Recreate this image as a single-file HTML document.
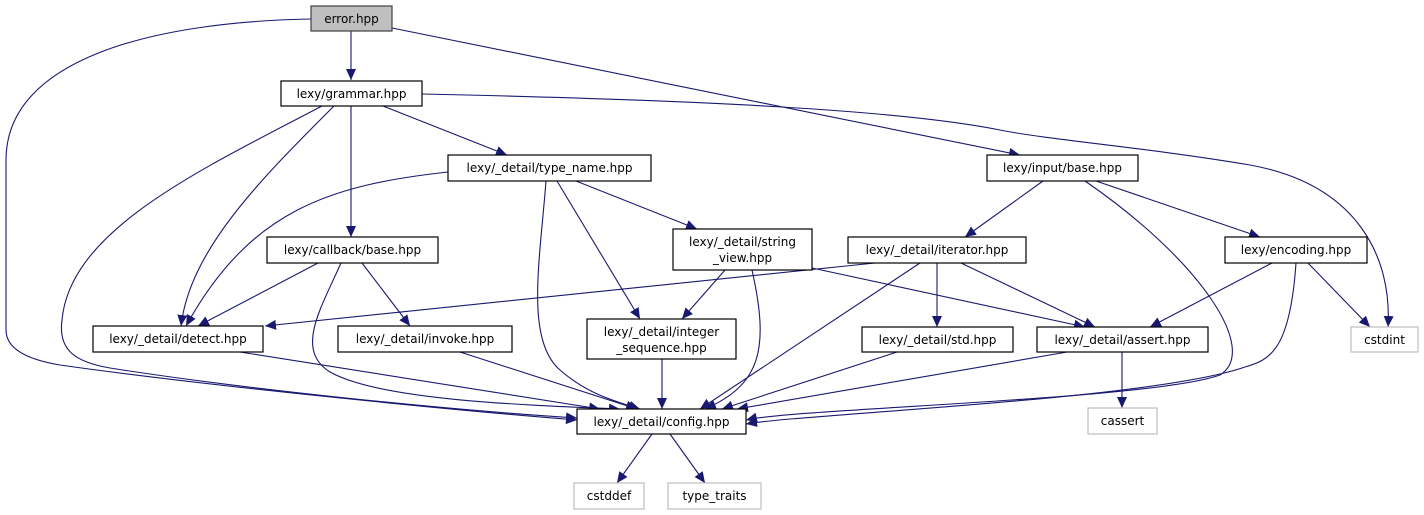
<!DOCTYPE html>
<html><head><meta charset="utf-8"><style>
html,body{margin:0;padding:0;background:#fff;}
svg{display:block;}
text{font-family:"DejaVu Sans","Liberation Sans",sans-serif;font-size:12px;fill:#000;}
</style></head><body>
<svg width="1424" height="515" viewBox="0 0 1424 515" xmlns="http://www.w3.org/2000/svg">
<defs>
<marker id="a" markerUnits="userSpaceOnUse" markerWidth="12" markerHeight="10" refX="11" refY="5" orient="auto">
<path d="M0,0 L11,5 L0,10 Z" fill="#191970"/>
</marker>
</defs>
<g fill="none" stroke="#191970" stroke-width="1.1" marker-end="url(#a)">
<path d="M351,31 L351,80"/>
<path d="M311,19 C150,22 6,60 6,160 L6,330 C6,350 30,360 60,365 C200,385 450,410 577,420"/>
<path d="M392,28 L1020,155"/>
<path d="M422,94 C700,100 900,110 1000,130 C1050,140 1150,148 1250,165 C1360,185 1392,260 1388,327"/>
<path d="M322,106 C200,170 70,230 62,320 C58,350 75,362 110,368 C250,390 450,410 577,418"/>
<path d="M334,106 C260,180 190,250 181,326"/>
<path d="M351,106 L351,237"/>
<path d="M383,106 L507,155"/>
<path d="M448,172 C330,185 250,210 186,326"/>
<path d="M546,181 C540,260 525,340 560,370 C585,392 610,400 640,409"/>
<path d="M557,181 L640,319"/>
<path d="M576,181 L697,229"/>
<path d="M318,263 L198,326"/>
<path d="M341,263 C320,310 295,350 330,372 C380,400 520,405 620,409"/>
<path d="M362,263 L410,326"/>
<path d="M725,270 L682,319"/>
<path d="M752,270 C770,350 760,385 705,409"/>
<path d="M812,268 L1085,327"/>
<path d="M875,263 L265,326"/>
<path d="M920,263 L700,409"/>
<path d="M937,263 L937,327"/>
<path d="M961,263 L1095,327"/>
<path d="M1043,181 L965,237"/>
<path d="M1085,181 C1200,260 1260,350 1220,375 C1150,400 800,408 746,420"/>
<path d="M1096,181 L1260,237"/>
<path d="M1272,263 L1150,327"/>
<path d="M1296,263 C1290,350 1270,360 1245,367 C1150,400 800,414 746,424"/>
<path d="M1308,263 L1370,327"/>
<path d="M1067,352 L737,409"/>
<path d="M1122,352 L1122,408"/>
<path d="M897,352 L722,409"/>
<path d="M240,352 L600,409"/>
<path d="M460,352 L637,409"/>
<path d="M662,359 L662,409"/>
<path d="M652,434 L617,483"/>
<path d="M670,434 L705,483"/>
</g>
<g stroke-width="1.2">
<rect x="311" y="6" width="81" height="25" fill="#bfbfbf" stroke="#404040"/>
<rect x="281" y="81" width="141" height="25" fill="#fff" stroke="#000"/>
<rect x="448" y="155" width="203" height="26" fill="#fff" stroke="#000"/>
<rect x="987" y="155" width="151" height="26" fill="#fff" stroke="#000"/>
<rect x="267" y="237" width="171" height="26" fill="#fff" stroke="#000"/>
<rect x="673" y="229" width="139" height="41" fill="#fff" stroke="#000"/>
<rect x="848" y="237" width="178" height="26" fill="#fff" stroke="#000"/>
<rect x="1225" y="237" width="142" height="26" fill="#fff" stroke="#000"/>
<rect x="93" y="326" width="170" height="26" fill="#fff" stroke="#000"/>
<rect x="338" y="326" width="174" height="26" fill="#fff" stroke="#000"/>
<rect x="587" y="319" width="149" height="40" fill="#fff" stroke="#000"/>
<rect x="862" y="327" width="151" height="25" fill="#fff" stroke="#000"/>
<rect x="1037" y="327" width="171" height="25" fill="#fff" stroke="#000"/>
<rect x="1351" y="327" width="67" height="25" fill="#fff" stroke="#bfbfbf"/>
<rect x="577" y="409" width="169" height="25" fill="#fff" stroke="#000"/>
<rect x="1088" y="408" width="69" height="26" fill="#fff" stroke="#bfbfbf"/>
<rect x="574" y="483" width="70" height="26" fill="#fff" stroke="#bfbfbf"/>
<rect x="668" y="483" width="93" height="26" fill="#fff" stroke="#bfbfbf"/>
</g>
<g text-anchor="middle">
<text x="351.5" y="23">error.hpp</text>
<text x="351.5" y="98">lexy/grammar.hpp</text>
<text x="549.5" y="172">lexy/_detail/type_name.hpp</text>
<text x="1062.5" y="172">lexy/input/base.hpp</text>
<text x="352.5" y="254">lexy/callback/base.hpp</text>
<text x="742.5" y="246">lexy/_detail/string</text>
<text x="742.5" y="262">_view.hpp</text>
<text x="937" y="254">lexy/_detail/iterator.hpp</text>
<text x="1296" y="254">lexy/encoding.hpp</text>
<text x="178" y="343">lexy/_detail/detect.hpp</text>
<text x="425" y="343">lexy/_detail/invoke.hpp</text>
<text x="661.5" y="336">lexy/_detail/integer</text>
<text x="661.5" y="352">_sequence.hpp</text>
<text x="937.5" y="344">lexy/_detail/std.hpp</text>
<text x="1122.5" y="344">lexy/_detail/assert.hpp</text>
<text x="1384.5" y="344" fill="#000">cstdint</text>
<text x="661.5" y="426">lexy/_detail/config.hpp</text>
<text x="1122.5" y="425">cassert</text>
<text x="609" y="500">cstddef</text>
<text x="714.5" y="500">type_traits</text>
</g>
</svg>
</body></html>
